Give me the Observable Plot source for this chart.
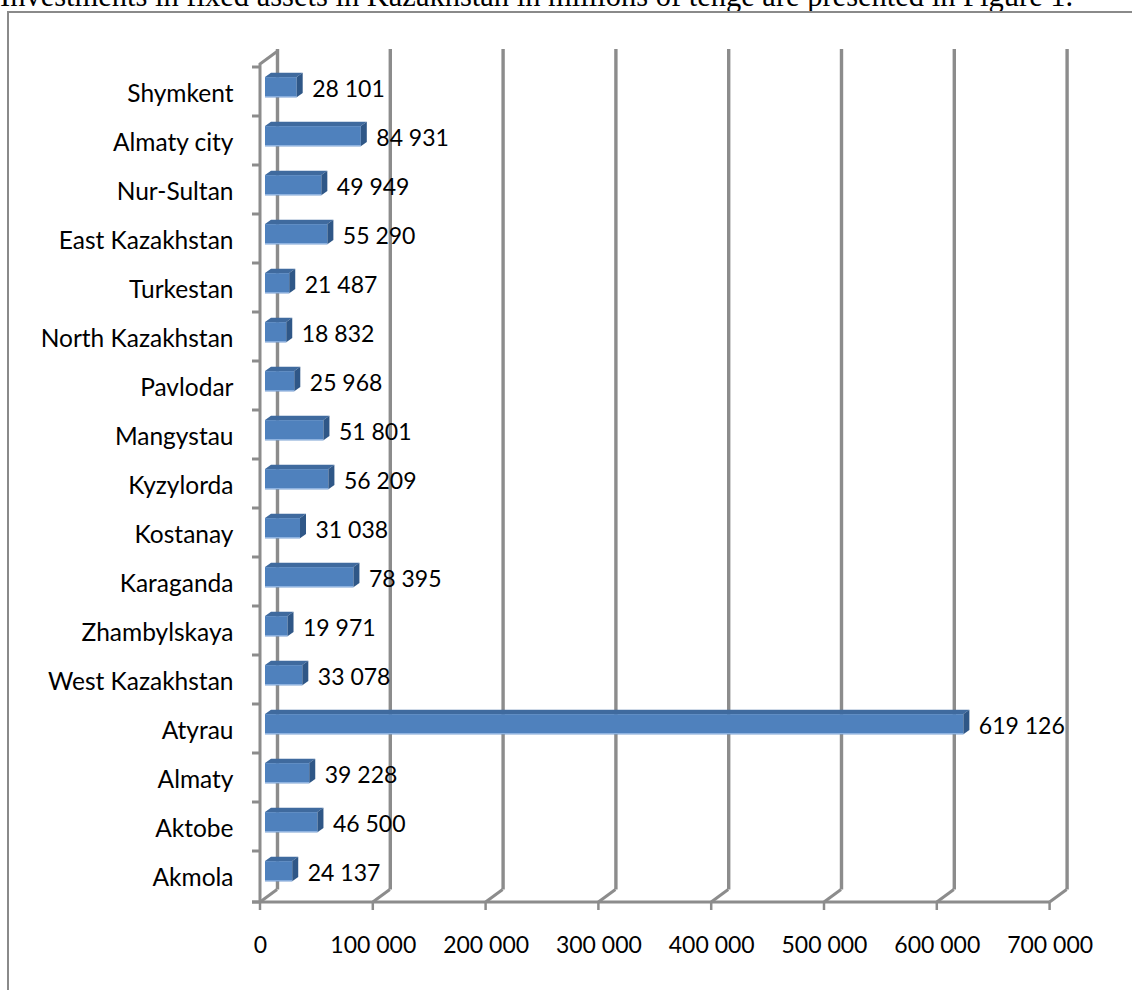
<!DOCTYPE html>
<html>
<head>
<meta charset="utf-8">
<script src="https://cdn.jsdelivr.net/npm/d3@7"></script>
<script src="https://cdn.jsdelivr.net/npm/@observablehq/plot@0.6"></script>
<style>
  html, body { margin: 0; padding: 0; background: #fff; }
  #page { position: relative; width: 1132px; height: 990px; overflow: hidden; }
  #lead {
    position: absolute; left: 0; top: -19.5px; white-space: nowrap;
    font-family: "Liberation Serif", "Times New Roman", serif;
    font-size: 30.5px; line-height: 1; color: #000;
  }
  #box {
    position: absolute; left: 7px; top: 11px; width: 1200px; height: 1100px;
    border-left: 2px solid #8a8a8a; border-top: 2px solid #8a8a8a;
  }
  #chart { position: absolute; left: 0; top: 0; }
  #chart svg { font-family: Lato, "Open Sans", sans-serif; }
</style>
</head>
<body>
<div id="page">
  <div id="lead">Investments in fixed assets in Kazakhstan in millions of tenge are presented in Figure 1.</div>
  <div id="box"></div>
  <div id="chart"></div>
</div>
<script>
// Regions, listed from the bottom of the chart to the top
const regions = [
  "Akmola", "Aktobe", "Almaty", "Atyrau", "West Kazakhstan", "Zhambylskaya",
  "Karaganda", "Kostanay", "Kyzylorda", "Mangystau", "Pavlodar",
  "North Kazakhstan", "Turkestan", "East Kazakhstan", "Nur-Sultan",
  "Almaty city", "Shymkent"
];
// Investments in fixed assets, millions of tenge
const investments = [
  24137, 46500, 39228, 619126, 33078, 19971, 78395, 31038, 56209, 51801,
  25968, 18832, 21487, 55290, 49949, 84931, 28101
];
// Value axis ticks
const xTicks = [0, 100000, 200000, 300000, 400000, 500000, 600000, 700000];

const rows = regions.map((region, i) => ({region, value: investments[i]}));
const fmt = d3.formatLocale({decimal: ".", thousands: " ", grouping: [3], currency: ["", ""]}).format(",d");

// Pseudo-3D geometry
const wallDx = 17, wallDy = -12.5;     // depth of the back wall
const barDx = 5, barDy = -4.3;         // bar front face sits inside the box
const barSideDx = 6, barSideDy = -4.4; // bar thickness
const barInset = 14.4;
const gridColor = "#8c8c8c";

// Floor, left wall edge and category tick marks
function walls(index, {x, y}, values, dims) {
  const g = d3.create("svg:g").attr("stroke", gridColor).attr("fill", "none").attr("stroke-width", 3);
  const x0 = x(0);
  const yTop = dims.marginTop, yBot = dims.height - dims.marginBottom;
  const xEnd = x(xTicks[xTicks.length - 1]);
  // left wall front edge and its top corner
  g.append("path").attr("d", `M${x0},${yBot}V${yTop}L${x0 + wallDx},${yTop + wallDy}`);
  // category boundaries
  const bounds = y.domain().map(d => y(d)).concat([yBot]);
  for (const b of bounds) g.append("path").attr("d", `M${x0 - 8},${b}H${x0}`);
  // floor front edge
  g.append("path").attr("d", `M${x0 - 8},${yBot}H${xEnd}`);
  // floor diagonals and value ticks
  for (const t of xTicks) {
    const xt = x(t);
    g.append("path").attr("d", `M${xt},${yBot}L${xt + wallDx},${yBot + wallDy}`);
    g.append("path").attr("d", `M${xt},${yBot}V${yBot + 8}`).attr("stroke-width", 2.5);
  }
  return g.node();
}

// Top and side faces of the bars
function barFaces(index, {x, y}) {
  const g = d3.create("svg:g");
  const bw = y.bandwidth();
  for (const r of rows) {
    const xa = x(0) + barDx, xb = x(r.value) + barDx;
    const ya = y(r.region) + barInset + barDy, yb = y(r.region) + bw - barInset + barDy;
    g.append("path")
      .attr("fill", "#3f6a9e")
      .attr("d", `M${xa},${ya}L${xa + barSideDx},${ya + barSideDy}H${xb + barSideDx}L${xb},${ya}Z`);
    g.append("path")
      .attr("fill", "#2f5787")
      .attr("d", `M${xb},${ya}L${xb + barSideDx},${ya + barSideDy}V${yb + barSideDy}L${xb},${yb}Z`);
    // light lower edge of the front face
    g.append("path")
      .attr("stroke", "#8fb3e0").attr("stroke-width", 1.2)
      .attr("d", `M${xa},${yb - 0.6}H${xb}`);
  }
  return g.node();
}

const chart = Plot.plot({
  width: 1132,
  height: 990,
  marginLeft: 260,
  marginRight: 82.4,
  marginTop: 64,
  marginBottom: 88,
  style: {fontFamily: "Lato, 'Open Sans', sans-serif", fontSize: "23px", background: "transparent"},
  x: {domain: [0, 700000], axis: null},
  y: {domain: regions.slice().reverse(), padding: 0, axis: null},
  marks: [
    // back wall gridlines
    Plot.ruleX(xTicks, {x: d => d, dx: wallDx, dy: wallDy, insetTop: -2.5, stroke: gridColor, strokeWidth: 3.4}),
    walls,
    Plot.barX(rows, {
      x: "value", y: "region", fill: "#4f81bd",
      insetTop: barInset, insetBottom: barInset, dx: barDx, dy: barDy
    }),
    barFaces,
    // value labels
    Plot.text(rows, {
      x: "value", y: "region", text: d => fmt(d.value),
      textAnchor: "start", dx: 20, dy: -2.5, fill: "#000", fontSize: 23
    }),
    // category labels
    Plot.text(regions, {
      y: d => d, text: d => d, frameAnchor: "left",
      textAnchor: "end", dx: -27, dy: 2, fill: "#000", fontSize: 24.5
    }),
    // value axis labels
    Plot.text(xTicks, {
      x: d => d, text: d => fmt(d), frameAnchor: "bottom",
      dy: 50, fill: "#000", fontSize: 23
    })
  ]
});
document.getElementById("chart").appendChild(chart);
</script>
</body>
</html>
